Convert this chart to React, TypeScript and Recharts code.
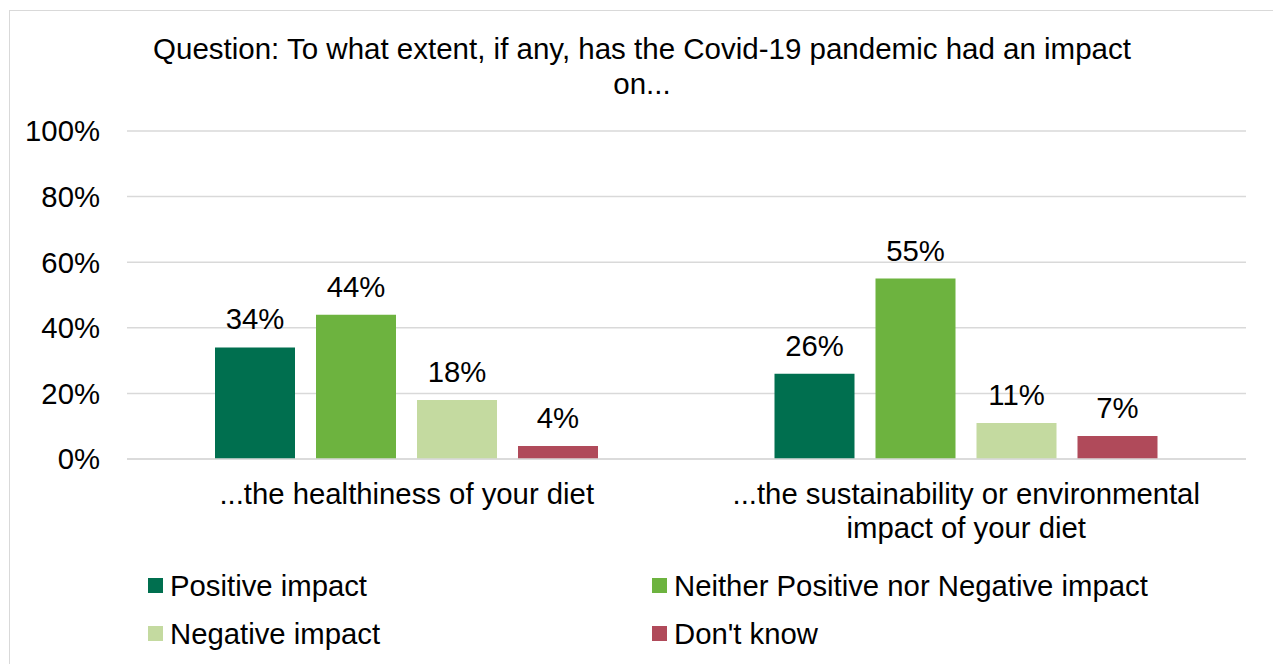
import React from "react"
import { BarChart, Bar, XAxis, YAxis, CartesianGrid, LabelList } from "recharts"

const categories = [
  "...the healthiness of your diet",
  "...the sustainability or environmental impact of your diet",
]
const positiveImpact = [34, 26]
const neitherImpact = [44, 55]
const negativeImpact = [18, 11]
const dontKnow = [4, 7]
const yTicks = [0, 20, 40, 60, 80, 100]

const seriesNames = {
  positive: "Positive impact",
  neither: "Neither Positive nor Negative impact",
  negative: "Negative impact",
  dontKnow: "Don't know",
}
const colors = {
  positive: "#006F4F",
  neither: "#6DB33F",
  negative: "#C4DAA0",
  dontKnow: "#B04A5A",
}

const data = categories.map((name, i) => ({
  name,
  positive: positiveImpact[i],
  neither: neitherImpact[i],
  negative: negativeImpact[i],
  dontKnow: dontKnow[i],
}))

const FONT = "'Liberation Sans', Arial, sans-serif"
const FS = 29.3

// greedy word wrap, measured with a canvas
function wrapWords(label: string, maxWidth: number): string[] {
  const ctx = document.createElement("canvas").getContext("2d")
  if (!ctx) return [label]
  ctx.font = `${FS}px ${FONT}`
  const lines: string[] = []
  let cur = ""
  for (const w of label.split(" ")) {
    const next = cur ? `${cur} ${w}` : w
    if (cur && ctx.measureText(next).width > maxWidth) {
      lines.push(cur)
      cur = w
    } else {
      cur = next
    }
  }
  if (cur) lines.push(cur)
  return lines
}

function CategoryTick(props: any) {
  const { x, y, payload } = props
  const lines = wrapWords(String(payload.value), 490)
  return (
    <text x={x} y={y} textAnchor="middle" fontSize={FS} fontFamily={FONT} fill="#000">
      {lines.map((l, i) => (
        <tspan key={i} x={x} dy={i === 0 ? 21 : 34}>
          {l}
        </tspan>
      ))}
    </text>
  )
}

// two-column legend laid out like the office chart
function LegendGrid() {
  const order: (keyof typeof seriesNames)[] = ["positive", "neither", "negative", "dontKnow"]
  const cols = [148, 652]
  const rows = [578, 626]
  return (
    <div style={{ position: "absolute", left: 0, top: 0, width: 1273, height: 664 }}>
      {order.map((k, i) => (
        <div
          key={k}
          style={{
            position: "absolute",
            left: cols[i % 2],
            top: rows[Math.floor(i / 2)],
            display: "flex",
            alignItems: "center",
            height: 15,
          }}
        >
          <div style={{ width: 15, height: 15, background: colors[k], marginRight: 7 }} />
          <span style={{ fontSize: FS, fontFamily: FONT, color: "#000", whiteSpace: "nowrap", lineHeight: "15px" }}>
            {seriesNames[k]}
          </span>
        </div>
      ))}
    </div>
  )
}

export default function App() {
  return (
    <div style={{ position: "fixed", left: 0, top: 0, width: 1273, height: 664, overflow: "hidden", background: "#fff" }}>
      <div style={{ position: "absolute", left: 9, top: 10, width: 1400, height: 800, border: "1px solid #d9d9d9" }} />
      <div
        style={{
          position: "absolute",
          left: 132,
          top: 31,
          width: 1020,
          textAlign: "center",
          fontSize: 29.5,
          fontFamily: FONT,
          lineHeight: "35px",
          color: "#000",
        }}
      >
        Question: To what extent, if any, has the Covid-19 pandemic had an impact on...
      </div>
      <div style={{ position: "absolute", left: 0, top: 0 }}>
        <BarChart
          width={1273}
          height={664}
          data={data}
          margin={{ top: 131, right: 27, bottom: 105, left: 27 }}
          barCategoryGap={88}
          barGap={21}
        >
          <CartesianGrid vertical={false} stroke="#d9d9d9" strokeWidth={1.5} />
          <XAxis
            dataKey="name"
            axisLine={{ stroke: "#d9d9d9", strokeWidth: 1.5 }}
            tickLine={false}
            tickMargin={18}
            tick={(p: any) => <CategoryTick {...p} />}
            interval={0}
            height={100}
          />
          <YAxis
            width={100}
            domain={[0, 100]}
            ticks={yTicks}
            axisLine={false}
            tickLine={false}
            tickMargin={21}
            tickFormatter={(v: number) => `${v}%`}
            tick={{ fontSize: FS, fontFamily: FONT, fill: "#000" }}
          />
          {(["positive", "neither", "negative", "dontKnow"] as const).map((k) => (
            <Bar key={k} dataKey={k} name={seriesNames[k]} fill={colors[k]} isAnimationActive={false}>
              <LabelList
                dataKey={k}
                position="top"
                offset={18}
                formatter={(v: any) => `${v}%`}
                style={{ fontSize: FS, fontFamily: FONT, fill: "#000" }}
              />
            </Bar>
          ))}
        </BarChart>
      </div>
      <LegendGrid />
    </div>
  )
}
